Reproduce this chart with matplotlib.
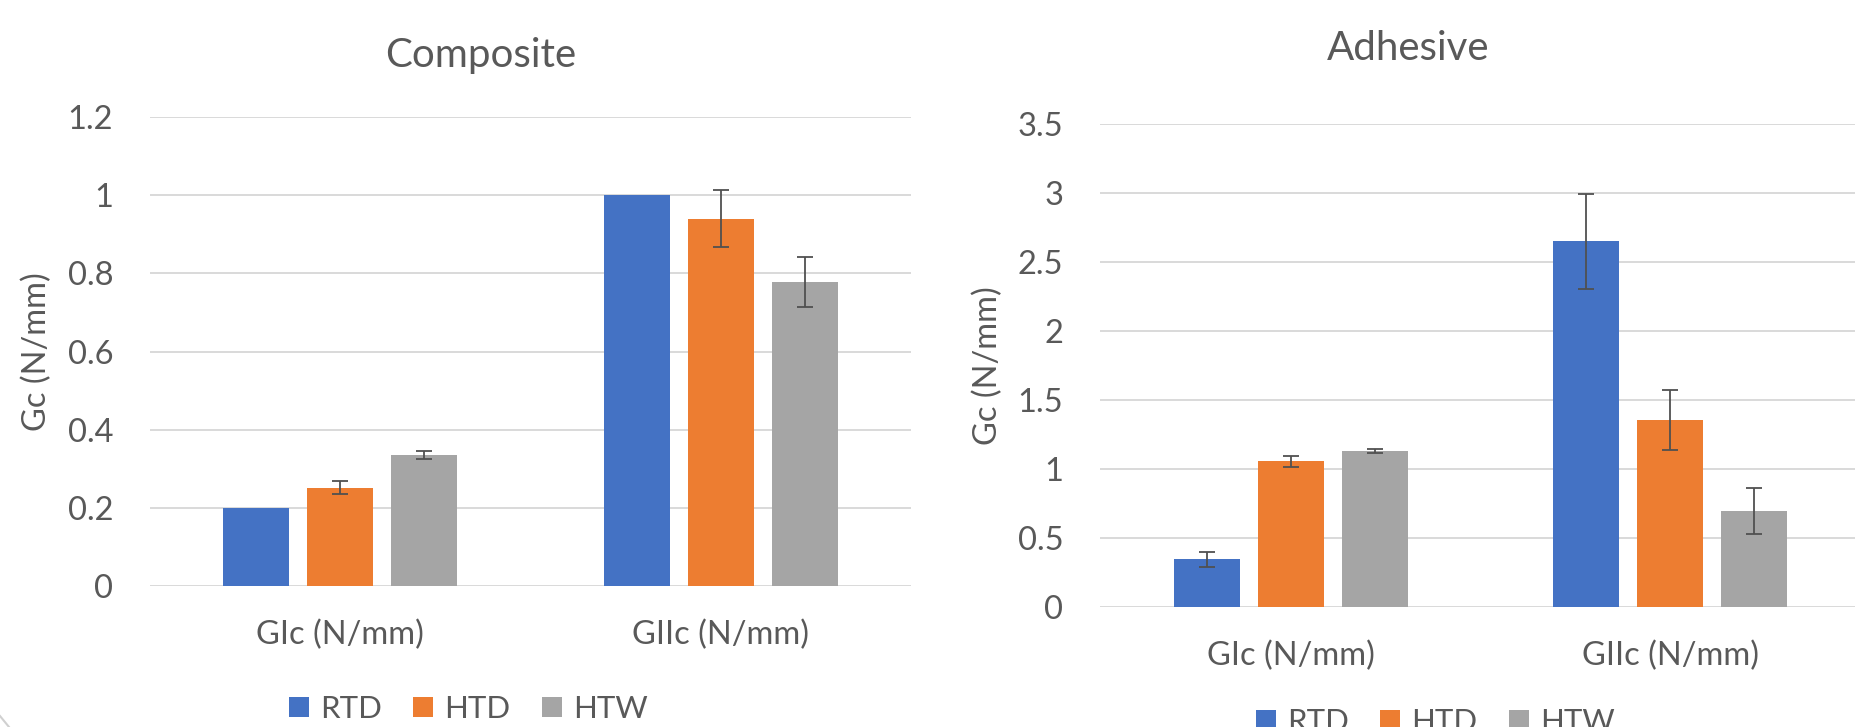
import matplotlib
matplotlib.use("Agg")
import matplotlib.pyplot as plt
import numpy as np

plt.rcParams['font.family'] = ['Lato', 'DejaVu Sans']

# donnees
categories = ["GIc (N/mm)", "GIIc (N/mm)"]
series = ["RTD", "HTD", "HTW"]
couleurs = ["#4472C4", "#ED7D31", "#A5A5A5"]

composite = {"RTD": [0.20, 1.00], "HTD": [0.252, 0.940], "HTW": [0.335, 0.778]}
composite_err = {"RTD": [0.0, 0.0], "HTD": [0.017, 0.072], "HTW": [0.011, 0.064]}

adhesive = {"RTD": [0.345, 2.65], "HTD": [1.057, 1.355], "HTW": [1.13, 0.695]}
adhesive_err = {"RTD": [0.053, 0.345], "HTD": [0.040, 0.220], "HTW": [0.015, 0.167]}

gris_txt = "#595959"
gris_grille = "#D9D9D9"
taille = 23.5

fig = plt.figure(figsize=(18.55, 7.27), dpi=100)


def tracer(ax, valeurs, erreurs, ymax, pas, xlim):
	x = np.arange(len(categories))
	larg = 0.174
	ecart = 0.221
	barres = []
	for i, s in enumerate(series):
		pos = x + (i - 1) * ecart
		err = erreurs[s]
		b = ax.bar(pos, valeurs[s], larg, color=couleurs[i], zorder=3, label=s)
		barres.append(b)
		e = np.array(err)
		m = e > 0
		if m.any():
			ax.errorbar(pos[m], np.array(valeurs[s])[m], yerr=e[m], fmt='none',
				ecolor="#505050", elinewidth=1.3, capsize=6, capthick=1.3, zorder=4)
	ax.set_ylim(0, ymax)
	ax.set_xlim(*xlim)
	ax.set_yticks(np.arange(0, ymax + pas / 2, pas))
	ax.set_yticklabels([("%g" % v) for v in np.arange(0, ymax + pas / 2, pas)])
	ax.set_xticks(x)
	ax.set_xticklabels(categories)
	ax.grid(axis='y', color=gris_grille, linewidth=1.4, zorder=0)
	for sp in ax.spines.values():
		sp.set_visible(False)
	ax.tick_params(axis='both', length=0, labelsize=taille, labelcolor=gris_txt)
	ax.tick_params(axis='y', pad=26.5)
	ax.tick_params(axis='x', pad=24.5)
	return barres


ax1 = fig.add_axes([150 / 1855, 1 - 586 / 727, 761 / 1855, (586 - 117) / 727])
b1 = tracer(ax1, composite, composite_err, 1.2, 0.2, (-0.5, 1.5))
ax1.set_ylabel("Gc (N/mm)", fontsize=taille, color=gris_txt)
ax1.yaxis.set_label_coords((37 - 150) / 761, 0.5)
ax1.yaxis.label.set_va('center')

ax2 = fig.add_axes([1100 / 1855, 1 - 607 / 727, 758 / 1855, (607 - 124) / 727])
b2 = tracer(ax2, adhesive, adhesive_err, 3.5, 0.5, (-0.504, 1.496))
ax2.set_ylabel("Gc (N/mm)", fontsize=taille, color=gris_txt)
ax2.yaxis.set_label_coords((988 - 1100) / 758, (607 - 366) / (607 - 124))
ax2.yaxis.label.set_va('center')

fig.text(481 / 1855, 1 - 55 / 727, "Composite", fontsize=29, color=gris_txt, ha='center', va='center')
fig.text(1408 / 1855, 1 - 49 / 727, "Adhesive", fontsize=29, color=gris_txt, ha='center', va='center')

leg_opts = dict(ncol=3, frameon=False, fontsize=22.5, labelcolor=gris_txt, loc='center',
	handlelength=0.65, handleheight=0.65, handletextpad=0.35, columnspacing=1.0,
	bbox_transform=fig.transFigure)
fig.legend(b1, series, bbox_to_anchor=(468 / 1855, 1 - 709 / 727), **leg_opts)
fig.legend(b2, series, bbox_to_anchor=(1435 / 1855, 1 - 722 / 727), **leg_opts)

# coin arrondi du cadre en bas a gauche
fig.add_artist(plt.Line2D([0 / 1855, 9 / 1855], [1 - 716 / 727, 1 - 727 / 727],
	transform=fig.transFigure, color="#D0D0D0", linewidth=1.5))

fig.savefig("out.png", dpi=100)
